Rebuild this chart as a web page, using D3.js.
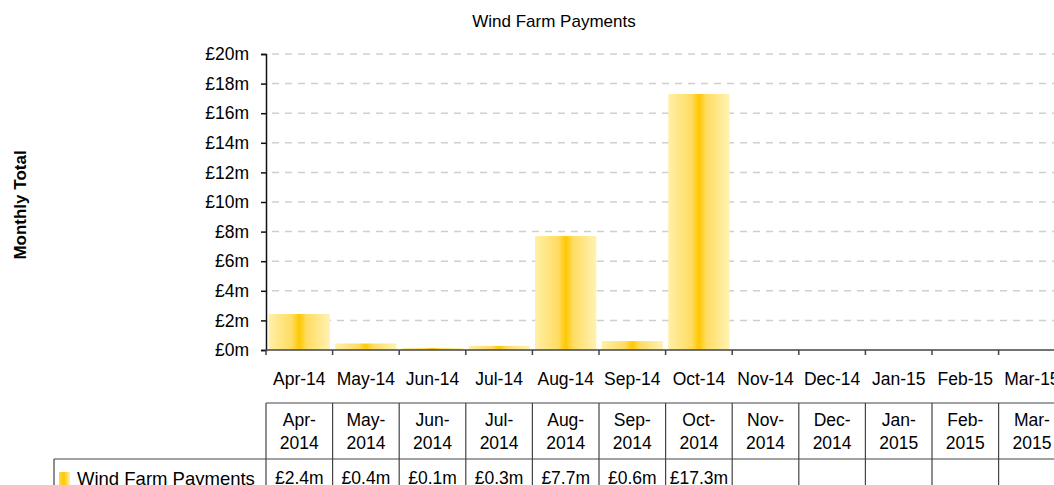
<!DOCTYPE html>
<html>
<head>
<meta charset="utf-8">
<script src="https://cdn.jsdelivr.net/npm/d3@7"></script>
<style>
    body { margin: 0; background: #fff; overflow: hidden; }
    svg { display: block; font-family: "Liberation Sans", Arial, sans-serif; }
</style>
</head>
<body>
<svg width="1054" height="485"></svg>
<script>
var months = ["Apr-14", "May-14", "Jun-14", "Jul-14", "Aug-14", "Sep-14",
    "Oct-14", "Nov-14", "Dec-14", "Jan-15", "Feb-15", "Mar-15"];
var tableMonths = ["Apr-", "May-", "Jun-", "Jul-", "Aug-", "Sep-",
    "Oct-", "Nov-", "Dec-", "Jan-", "Feb-", "Mar-"];
var tableYears = ["2014", "2014", "2014", "2014", "2014", "2014",
    "2014", "2014", "2014", "2015", "2015", "2015"];
// £ millions, null = no payment recorded yet
var payments = [2.43, 0.44, 0.14, 0.28, 7.7, 0.6, 17.3, null, null, null, null, null];
var yTicks = [0, 2, 4, 6, 8, 10, 12, 14, 16, 18, 20];

var seriesName = "Wind Farm Payments";
var chartTitle = "Wind Farm Payments";
var yTitle = "Monthly Total";

var svg = d3.select("svg");

var xScale = d3.scaleBand().domain(months).range([266, 266 + 12 * 66.6])
    .paddingInner(0.08).paddingOuter(0.04);
var yScale = d3.scaleLinear().domain([0, 20]).range([350, 54]);
var step = xScale.step();
var left = 266;

// Bar gradient
var defs = svg.append("defs");
var grad = defs.append("linearGradient").attr("id", "barGrad")
    .attr("x1", "0%").attr("x2", "100%").attr("y1", "0%").attr("y2", "0%");
grad.append("stop").attr("offset", "0%").attr("stop-color", "#fff0a6");
grad.append("stop").attr("offset", "38%").attr("stop-color", "#ffdc62");
grad.append("stop").attr("offset", "50%").attr("stop-color", "#ffc800");
grad.append("stop").attr("offset", "62%").attr("stop-color", "#ffdc62");
grad.append("stop").attr("offset", "100%").attr("stop-color", "#fff2b4");

var keyGrad = defs.append("linearGradient").attr("id", "keyGrad")
    .attr("x1", "0%").attr("x2", "100%").attr("y1", "0%").attr("y2", "0%");
keyGrad.append("stop").attr("offset", "0%").attr("stop-color", "#ffd84a");
keyGrad.append("stop").attr("offset", "45%").attr("stop-color", "#ffc800");
keyGrad.append("stop").attr("offset", "100%").attr("stop-color", "#fff0a8");

// Title
svg.append("text")
    .attr("x", 554)
    .attr("y", 27)
    .attr("text-anchor", "middle")
    .style("font-size", "17px")
    .text(chartTitle);

// Y title
svg.append("text")
    .attr("transform", "translate(26,205) rotate(-90)")
    .attr("text-anchor", "middle")
    .style("font-size", "17px")
    .style("font-weight", "bold")
    .text(yTitle);

// Gridlines
svg.append("g")
    .selectAll("line")
    .data(yTicks.filter(d => d > 0))
    .join("line")
    .attr("x1", left)
    .attr("x2", 1054)
    .attr("y1", d => yScale(d))
    .attr("y2", d => yScale(d))
    .attr("stroke", "#cfcfcf")
    .attr("stroke-width", 1.5)
    .attr("stroke-dasharray", "7,6")
    .attr("stroke-dashoffset", -6);

// Bars
svg.append("g")
    .selectAll("rect")
    .data(months.map((m, i) => ({ m: m, v: payments[i] })).filter(d => d.v !== null))
    .join("rect")
    .attr("x", d => xScale(d.m))
    .attr("width", xScale.bandwidth())
    .attr("y", d => yScale(d.v))
    .attr("height", d => yScale(0) - yScale(d.v))
    .attr("fill", "url(#barGrad)");

// Y axis
var yAxis = svg.append("g")
    .attr("transform", "translate(" + left + ",0)")
    .call(d3.axisLeft(yScale).tickValues(yTicks).tickSize(5).tickPadding(12)
        .tickFormat(d => "£" + d + "m"));
yAxis.select(".domain").attr("stroke", "#111").attr("stroke-width", 1.5);
yAxis.selectAll(".tick line").attr("stroke", "#111").attr("stroke-width", 1.5);
yAxis.selectAll("text").style("font-size", "17.5px").attr("fill", "#000")
    .style("font-family", "'Liberation Sans', Arial, sans-serif");

// X axis line and ticks at band boundaries
svg.append("line")
    .attr("x1", left).attr("x2", 1054)
    .attr("y1", yScale(0)).attr("y2", yScale(0))
    .attr("stroke", "#444").attr("stroke-width", 1.5);
svg.append("g")
    .selectAll("line")
    .data(d3.range(months.length + 1))
    .join("line")
    .attr("x1", i => left + i * step)
    .attr("x2", i => left + i * step)
    .attr("y1", yScale(0))
    .attr("y2", yScale(0) + 5)
    .attr("stroke", "#444").attr("stroke-width", 1.5);

// Category labels
svg.append("g")
    .selectAll("text")
    .data(months)
    .join("text")
    .attr("x", d => xScale(d) + xScale.bandwidth() / 2)
    .attr("y", 385)
    .attr("text-anchor", "middle")
    .style("font-size", "17.5px")
    .text(d => d);

// Data table
var table = svg.append("g").attr("stroke", "#444").attr("stroke-width", 1.2);
var headTop = 403, headBottom = 459, rowBottom = 500;

table.append("line").attr("x1", left).attr("x2", 1054).attr("y1", headTop).attr("y2", headTop);
table.append("line").attr("x1", 54).attr("x2", 1054).attr("y1", headBottom).attr("y2", headBottom);
table.append("line").attr("x1", 54).attr("x2", 54).attr("y1", headBottom).attr("y2", rowBottom);
table.selectAll("line.col")
    .data(d3.range(months.length + 1))
    .join("line")
    .attr("class", "col")
    .attr("x1", i => left + i * step)
    .attr("x2", i => left + i * step)
    .attr("y1", headTop)
    .attr("y2", rowBottom);

var cells = svg.append("g")
    .selectAll("g")
    .data(months.map((m, i) => ({ i: i, top: tableMonths[i], bottom: tableYears[i], v: payments[i] })))
    .join("g")
    .attr("transform", d => "translate(" + (left + d.i * step + step / 2) + ",0)")
    .style("font-size", "17.5px")
    .attr("text-anchor", "middle");

cells.append("text").attr("y", 426).text(d => d.top);
cells.append("text").attr("y", 449).text(d => d.bottom);
cells.append("text").attr("y", 484).text(d => d.v === null ? "" : "£" + d.v.toFixed(1) + "m");

// Legend key in row header
svg.append("rect")
    .attr("x", 59).attr("y", 472).attr("width", 11).attr("height", 20)
    .attr("fill", "url(#keyGrad)");
svg.append("text")
    .attr("x", 77).attr("y", 485)
    .style("font-size", "18.5px")
    .text(seriesName);
</script>
</body>
</html>
